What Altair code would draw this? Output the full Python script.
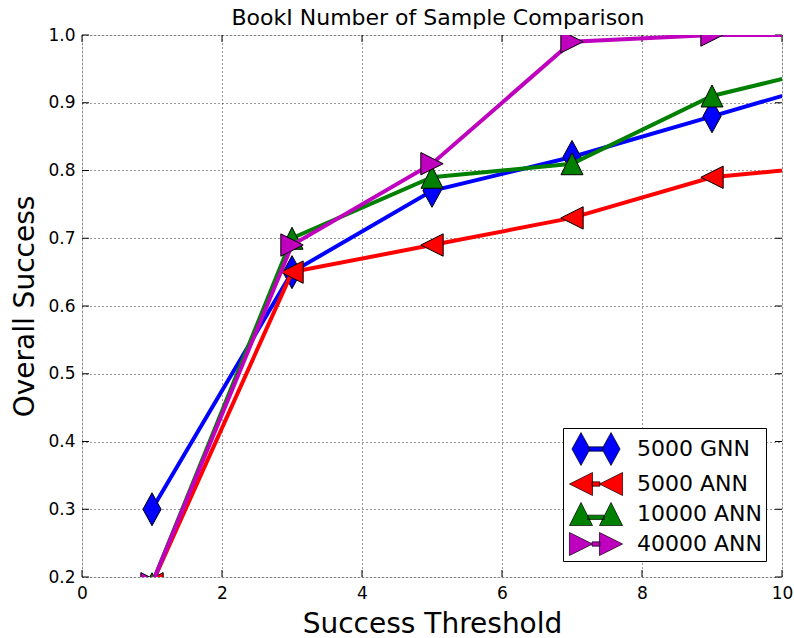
import altair as alt
import pandas as pd

# Success thresholds at which each configuration was evaluated
thresholds = [1, 3, 5, 7, 9, 11]

# Overall success per configuration
gnn_5000 = [0.30, 0.65, 0.77, 0.82, 0.88, 0.94]
ann_5000 = [0.19, 0.65, 0.69, 0.73, 0.79, 0.81]
ann_10000 = [0.19, 0.70, 0.79, 0.81, 0.91, 0.96]
ann_40000 = [0.19, 0.69, 0.81, 0.99, 1.00, 1.00]

series_names = ["5000 GNN", "5000 ANN", "10000 ANN", "40000 ANN"]
series_values = [gnn_5000, ann_5000, ann_10000, ann_40000]
series_colors = ["#0000ff", "#ff0000", "#008000", "#bf00bf"]

x_ticks = [0, 2, 4, 6, 8, 10]
y_ticks = [0.2, 0.3, 0.4, 0.5, 0.6, 0.7, 0.8, 0.9, 1.0]

# Marker outlines in unit coordinates
marker_paths = [
    "M0,-1L0.55,0L0,1L-0.55,0Z",      # thin diamond
    "M-1,0L1,-1L1,1Z",                # triangle pointing left
    "M0,-1L1,1L-1,1Z",                # triangle pointing up
    "M1,0L-1,-1L-1,1Z",               # triangle pointing right
]
marker_sizes = [1089, 500, 484, 500]

# Legend glyphs: two markers joined by a short line segment
legend_paths = [
    "M-0.91,-1L-0.36,0L-0.91,1L-1.46,0Z"
    "M0.91,-1L1.46,0L0.91,1L0.36,0Z"
    "M-0.42,-0.13L0.42,-0.13L0.42,0.13L-0.42,0.13Z",
    "M-1.61,0L-0.21,-0.7L-0.21,0.7Z"
    "M0.21,0L1.61,-0.7L1.61,0.7Z"
    "M-0.24,-0.13L0.24,-0.13L0.24,0.13L-0.24,0.13Z",
    "M-0.91,-0.7L-0.21,0.7L-1.61,0.7Z"
    "M0.91,-0.7L1.61,0.7L0.21,0.7Z"
    "M-0.5,0.07L0.5,0.07L0.5,0.33L-0.5,0.33Z",
    "M-0.21,0L-1.61,-0.7L-1.61,0.7Z"
    "M1.61,0L0.21,-0.7L0.21,0.7Z"
    "M-0.24,-0.13L0.24,-0.13L0.24,0.13L-0.24,0.13Z",
]

rows = []
for name, vals in zip(series_names, series_values):
    for t, v in zip(thresholds, vals):
        rows.append({"series": name, "threshold": t, "success": v})
df = pd.DataFrame(rows)

W, H = 700, 542
FONT = "DejaVu Sans"

x_scale = alt.Scale(domain=[0, 10], nice=False, zero=False)
y_scale = alt.Scale(domain=[0.2, 1.0], nice=False, zero=False)

x_axis = alt.Axis(
    values=x_ticks, format="d", grid=True, ticks=False, domain=False,
    labelFontSize=17, labelPadding=8, labelFont=FONT, labelColor="black",
    labelFlush=False, labelOverlap=False,
    title="Success Threshold", titleFontSize=28, titleFont=FONT,
    titleFontWeight="normal", titleColor="black", titlePadding=9,
    gridColor="black", gridDash=[1, 3], gridOpacity=0.8,
)
y_axis = alt.Axis(
    values=y_ticks, format=".1f", grid=True, ticks=False, domain=False,
    labelFontSize=17, labelPadding=7, labelFont=FONT, labelColor="black",
    labelFlush=False, labelOverlap=False,
    title="Overall Success", titleFontSize=28, titleFont=FONT,
    titleFontWeight="normal", titleColor="black", titlePadding=8,
    gridColor="black", gridDash=[1, 3], gridOpacity=0.8,
)

base = alt.Chart(df)

# Axis frame with grid and labels
frame = base.mark_point(opacity=0).encode(
    x=alt.X("threshold:Q", scale=x_scale, axis=x_axis),
    y=alt.Y("success:Q", scale=y_scale, axis=y_axis),
)

# Inward-pointing tick marks on all four sides
xt = alt.Chart(pd.DataFrame({"t": x_ticks}))
yt = alt.Chart(pd.DataFrame({"t": y_ticks}))
tick_len = 7
tick_style = dict(color="black", strokeWidth=1)
ticks = [
    xt.mark_rule(**tick_style).encode(x=alt.X("t:Q", scale=x_scale), y=alt.value(H), y2=alt.value(H - tick_len)),
    xt.mark_rule(**tick_style).encode(x=alt.X("t:Q", scale=x_scale), y=alt.value(0), y2=alt.value(tick_len)),
    yt.mark_rule(**tick_style).encode(y=alt.Y("t:Q", scale=y_scale), x=alt.value(0), x2=alt.value(tick_len)),
    yt.mark_rule(**tick_style).encode(y=alt.Y("t:Q", scale=y_scale), x=alt.value(W), x2=alt.value(W - tick_len)),
]

layers = [frame] + ticks

# Each configuration: line first, then its markers on top
for name, color, path, size in zip(series_names, series_colors, marker_paths, marker_sizes):
    sub = base.transform_filter(alt.datum.series == name)
    line = sub.mark_line(color=color, strokeWidth=4, clip=True).encode(
        x=alt.X("threshold:Q", scale=x_scale),
        y=alt.Y("success:Q", scale=y_scale),
    )
    pts = sub.mark_point(
        shape=path, size=size, filled=True, fill=color, stroke="black",
        strokeWidth=1, opacity=1, clip=True,
    ).encode(
        x=alt.X("threshold:Q", scale=x_scale),
        y=alt.Y("success:Q", scale=y_scale),
    )
    layers += [line, pts]

# Legend carrier (no visible marks of its own)
legend_layer = base.transform_filter("false").mark_point(
    filled=True, opacity=1, stroke="black", strokeWidth=0.7
).encode(
    x=alt.X("threshold:Q", scale=x_scale),
    y=alt.Y("success:Q", scale=y_scale),
    color=alt.Color(
        "series:N",
        scale=alt.Scale(domain=series_names, range=series_colors),
        legend=alt.Legend(
            title=None, orient="none", legendX=481, legendY=393,
            direction="vertical",
            symbolSize=1089, symbolStrokeColor="black", symbolStrokeWidth=0.7,
            symbolOffset=12, labelOffset=24,
            labelFontSize=22, labelFont=FONT, labelColor="black",
            rowPadding=0, padding=4,
            strokeColor="black", fillColor="white",
        ),
    ),
    shape=alt.Shape(
        "series:N",
        scale=alt.Scale(domain=series_names, range=legend_paths),
    ),
)
layers.append(legend_layer)

chart = alt.layer(*layers).properties(
    width=W,
    height=H,
    title=alt.TitleParams(
        "BookI Number of Sample Comparison", fontSize=22, font=FONT,
        fontWeight="normal", color="black", offset=8, dy=12, dx=6,
    ),
    autosize=alt.AutoSizeParams(type="none"),
    padding={"left": 82, "top": 35, "right": 12, "bottom": 61},
).configure_view(stroke="black", strokeWidth=2).configure(background="white")

chart.save("out.html", embed_options={"renderer": "svg", "actions": False})
